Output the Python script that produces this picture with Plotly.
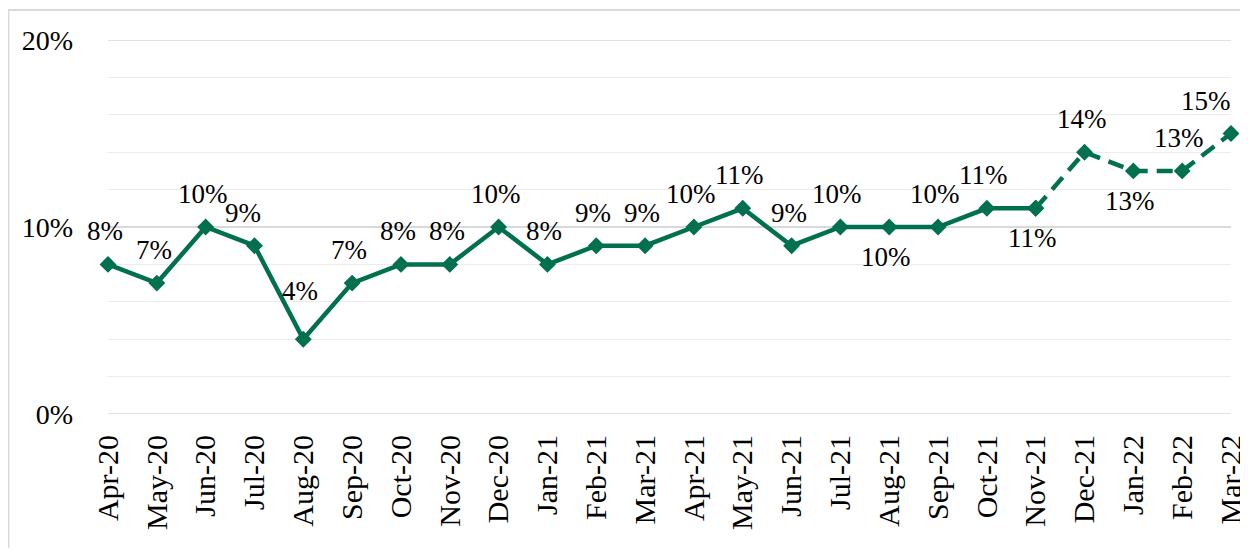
import plotly.graph_objects as go

months = ["Apr-20", "May-20", "Jun-20", "Jul-20", "Aug-20", "Sep-20", "Oct-20", "Nov-20",
          "Dec-20", "Jan-21", "Feb-21", "Mar-21", "Apr-21", "May-21", "Jun-21", "Jul-21",
          "Aug-21", "Sep-21", "Oct-21", "Nov-21", "Dec-21", "Jan-22", "Feb-22", "Mar-22"]
values = [8, 7, 10, 9, 4, 7, 8, 8, 10, 8, 9, 9, 10, 11, 9, 10, 10, 10, 11, 11, 14, 13, 13, 15]
label_pos = ["top", "top", "top", "top", "top", "top", "top", "top", "top", "top", "top", "top",
             "top", "top", "top", "top", "bottom", "top", "top", "bottom", "top", "bottom", "top", "top"]
solid_end = 19  # Nov-21 index; dashed afterwards
y_min, y_max = 0, 20

GREEN = "#00704F"
FONT = "Liberation Serif, Times New Roman, serif"
# extra label nudges (pixels) to mirror hand-placed labels in the original
label_nudge = {3: (-8, 0), 4: (0, 15)}

x = list(range(len(months)))
fig = go.Figure()
fig.add_trace(go.Scatter(x=x[:solid_end + 1], y=values[:solid_end + 1], mode="lines+markers",
                         line=dict(color=GREEN, width=4.5),
                         marker=dict(symbol="diamond", size=13, color=GREEN),
                         cliponaxis=False, hoverinfo="skip"))
fig.add_trace(go.Scatter(x=x[solid_end:], y=values[solid_end:], mode="lines+markers",
                         line=dict(color=GREEN, width=4.5, dash="16px,9px"),
                         marker=dict(symbol="diamond", size=13, color=GREEN),
                         cliponaxis=False, hoverinfo="skip"))

annotations = []
for i, (xi, v, p) in enumerate(zip(x, values, label_pos)):
    last = i == len(x) - 1
    dx, dy = label_nudge.get(i, (0, 0))
    annotations.append(dict(
        x=xi, y=v, text=f"{v}%", showarrow=False,
        xanchor="right" if last else "center", yanchor="middle",
        xshift=(2 if last else -3) + dx,
        yshift=(33 if p == "top" else -30) + dy,
        font=dict(family=FONT, size=27, color="black")))

shapes = [
    dict(type="rect", xref="paper", yref="paper", x0=-0.0887, x1=1.05, y0=-0.5, y1=1.08,
         line=dict(color="#d9d9d9", width=2), fillcolor="rgba(0,0,0,0)", layer="below"),
]
for yv in (y_min, y_max):
    shapes.append(dict(type="line", xref="paper", yref="y", x0=0, x1=1, y0=yv, y1=yv,
                       line=dict(color="#d9d9d9", width=1.5), layer="below"))

fig.update_layout(
    width=1240, height=540,
    margin=dict(l=100, r=17, t=32, b=134, autoexpand=False),
    paper_bgcolor="white", plot_bgcolor="white",
    showlegend=False,
    font=dict(family=FONT, size=27, color="black"),
    annotations=annotations,
    shapes=shapes,
    xaxis=dict(range=[0, len(months) - 1], tickmode="array", tickvals=x, ticktext=months,
               tickangle=-90, showgrid=False, zeroline=False, showline=False,
               ticks="", ticklabelstandoff=14, ticklabeloverflow="allow", automargin=False,
               tickfont=dict(family=FONT, size=30)),
    yaxis=dict(range=[y_min, y_max], tickmode="linear", tick0=0, dtick=10, ticksuffix="%",
               showgrid=True, gridcolor="#d9d9d9", gridwidth=1.5,
               minor=dict(dtick=2, tick0=0, showgrid=True, gridcolor="#ececec", gridwidth=1),
               zeroline=False, showline=False, ticks="", ticklabelstandoff=34,
               ticklabeloverflow="allow", automargin=False,
               tickfont=dict(family=FONT, size=28)),
)

fig.write_html("out.html")
